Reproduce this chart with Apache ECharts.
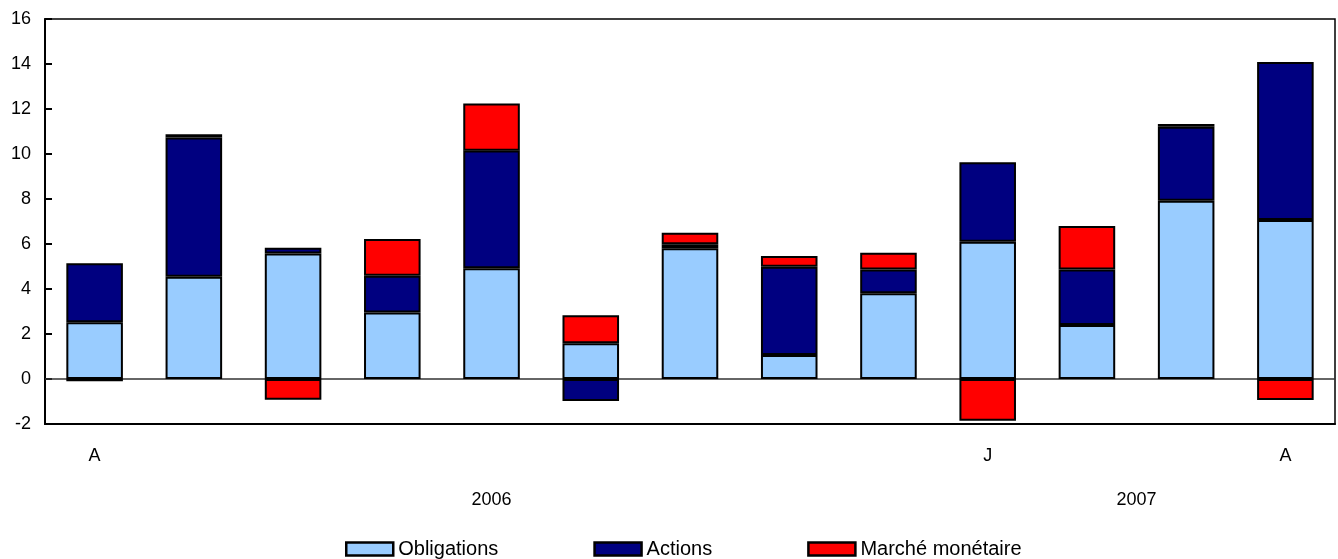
<!DOCTYPE html>
<html>
<head>
<meta charset="utf-8">
<script src="https://cdn.jsdelivr.net/npm/echarts@6/dist/echarts.min.js"></script>
<style>
  html, body { margin: 0; padding: 0; background: #fff; }
  #chart { width: 1338px; height: 559px; }
</style>
</head>
<body>
<div id="chart"></div>
<script>
// mois d'avril 2006 à avril 2007
const categories = ["A", "M", "J", "J", "A", "S", "O", "N", "D", "J", "F", "M", "A"]
const shownLabels = [0, 9, 12]
const years = [
  { label: "2006", from: 0, to: 9 },
  { label: "2007", from: 9, to: 13 },
]

// valeurs
const obligations = [2.52, 4.55, 5.58, 2.96, 4.92, 1.59, 5.81, 1.07, 3.81, 6.1, 2.4, 7.92, 7.07]
const actions = [2.62, 6.18, 0.25, 1.63, 5.23, -0.98, 0.18, 3.92, 1.06, 3.53, 2.47, 3.29, 7.02]
const marche = [-0.1, 0.15, -0.92, 1.63, 2.1, 1.24, 0.51, 0.48, 0.74, -1.85, 1.93, 0.12, -0.93]

const yTicks = { min: -2, max: 16, interval: 2 }

const font = "'Liberation Sans', Arial, sans-serif"

const chart = echarts.init(document.getElementById("chart"))

const barStyle = (color) => ({
  color: color,
  borderColor: "#000",
  borderWidth: 2,
})

// centre de chaque année sur l'axe des valeurs
const yearCenters = years.map((y) => ({ label: y.label, at: (y.from + y.to) / 2 }))

const option = {
  animation: false,
  textStyle: { fontFamily: font },
  grid: {
    left: 45,
    right: 2,
    top: 19,
    bottom: 135,
    show: true,
    borderColor: "#000",
    borderWidth: 1.5,
    containLabel: false,
  },
  legend: {
    top: 534,
    left: 340,
    icon: "rect",
    itemWidth: 47,
    itemHeight: 13,
    itemGap: 95,
    itemStyle: { borderColor: "#000", borderWidth: 2.5 },
    textStyle: { fontSize: 20, color: "#000", fontFamily: font },
    data: ["Obligations", "Actions", "Marché monétaire"],
  },
  xAxis: [
    {
      type: "category",
      data: categories,
      position: "bottom",
      axisLine: { onZero: false, lineStyle: { color: "#000", width: 2 } },
      axisTick: { inside: true, length: 7, lineStyle: { color: "#000", width: 2 } },
      axisLabel: {
        interval: (index) => shownLabels.includes(index),
        margin: 23,
        fontSize: 18,
        color: "#000",
        fontFamily: font,
      },
      splitLine: { show: false },
    },
    {
      type: "value",
      position: "bottom",
      min: 0,
      max: categories.length,
      interval: 0.5,
      axisLine: { show: false },
      axisTick: { show: false },
      splitLine: { show: false },
      axisLabel: {
        margin: 67,
        fontSize: 18,
        color: "#000",
        fontFamily: font,
        formatter: (v) => {
          const y = yearCenters.find((c) => Math.abs(c.at - v) < 1e-6)
          return y ? y.label : ""
        },
      },
    },
  ],
  yAxis: {
    type: "value",
    min: yTicks.min,
    max: yTicks.max,
    interval: yTicks.interval,
    axisLine: { show: true, lineStyle: { color: "#000", width: 2 } },
    axisTick: { show: true, inside: true, length: 7, lineStyle: { color: "#000", width: 2 } },
    axisLabel: { fontSize: 18, color: "#000", margin: 14, fontFamily: font },
    splitLine: { show: false },
  },
  series: [
    {
      name: "Obligations",
      type: "bar",
      stack: "total",
      barWidth: "57%",
      data: obligations,
      itemStyle: barStyle("#99ccff"),
      markLine: {
        silent: true,
        symbol: "none",
        label: { show: false },
        lineStyle: { color: "#333", width: 1.5, type: "solid" },
        data: [{ yAxis: 0 }],
        z: 1,
      },
    },
    {
      name: "Actions",
      type: "bar",
      stack: "total",
      data: actions,
      itemStyle: barStyle("#000080"),
    },
    {
      name: "Marché monétaire",
      type: "bar",
      stack: "total",
      data: marche,
      itemStyle: barStyle("#ff0000"),
    },
  ],
}

chart.setOption(option)
</script>
</body>
</html>
